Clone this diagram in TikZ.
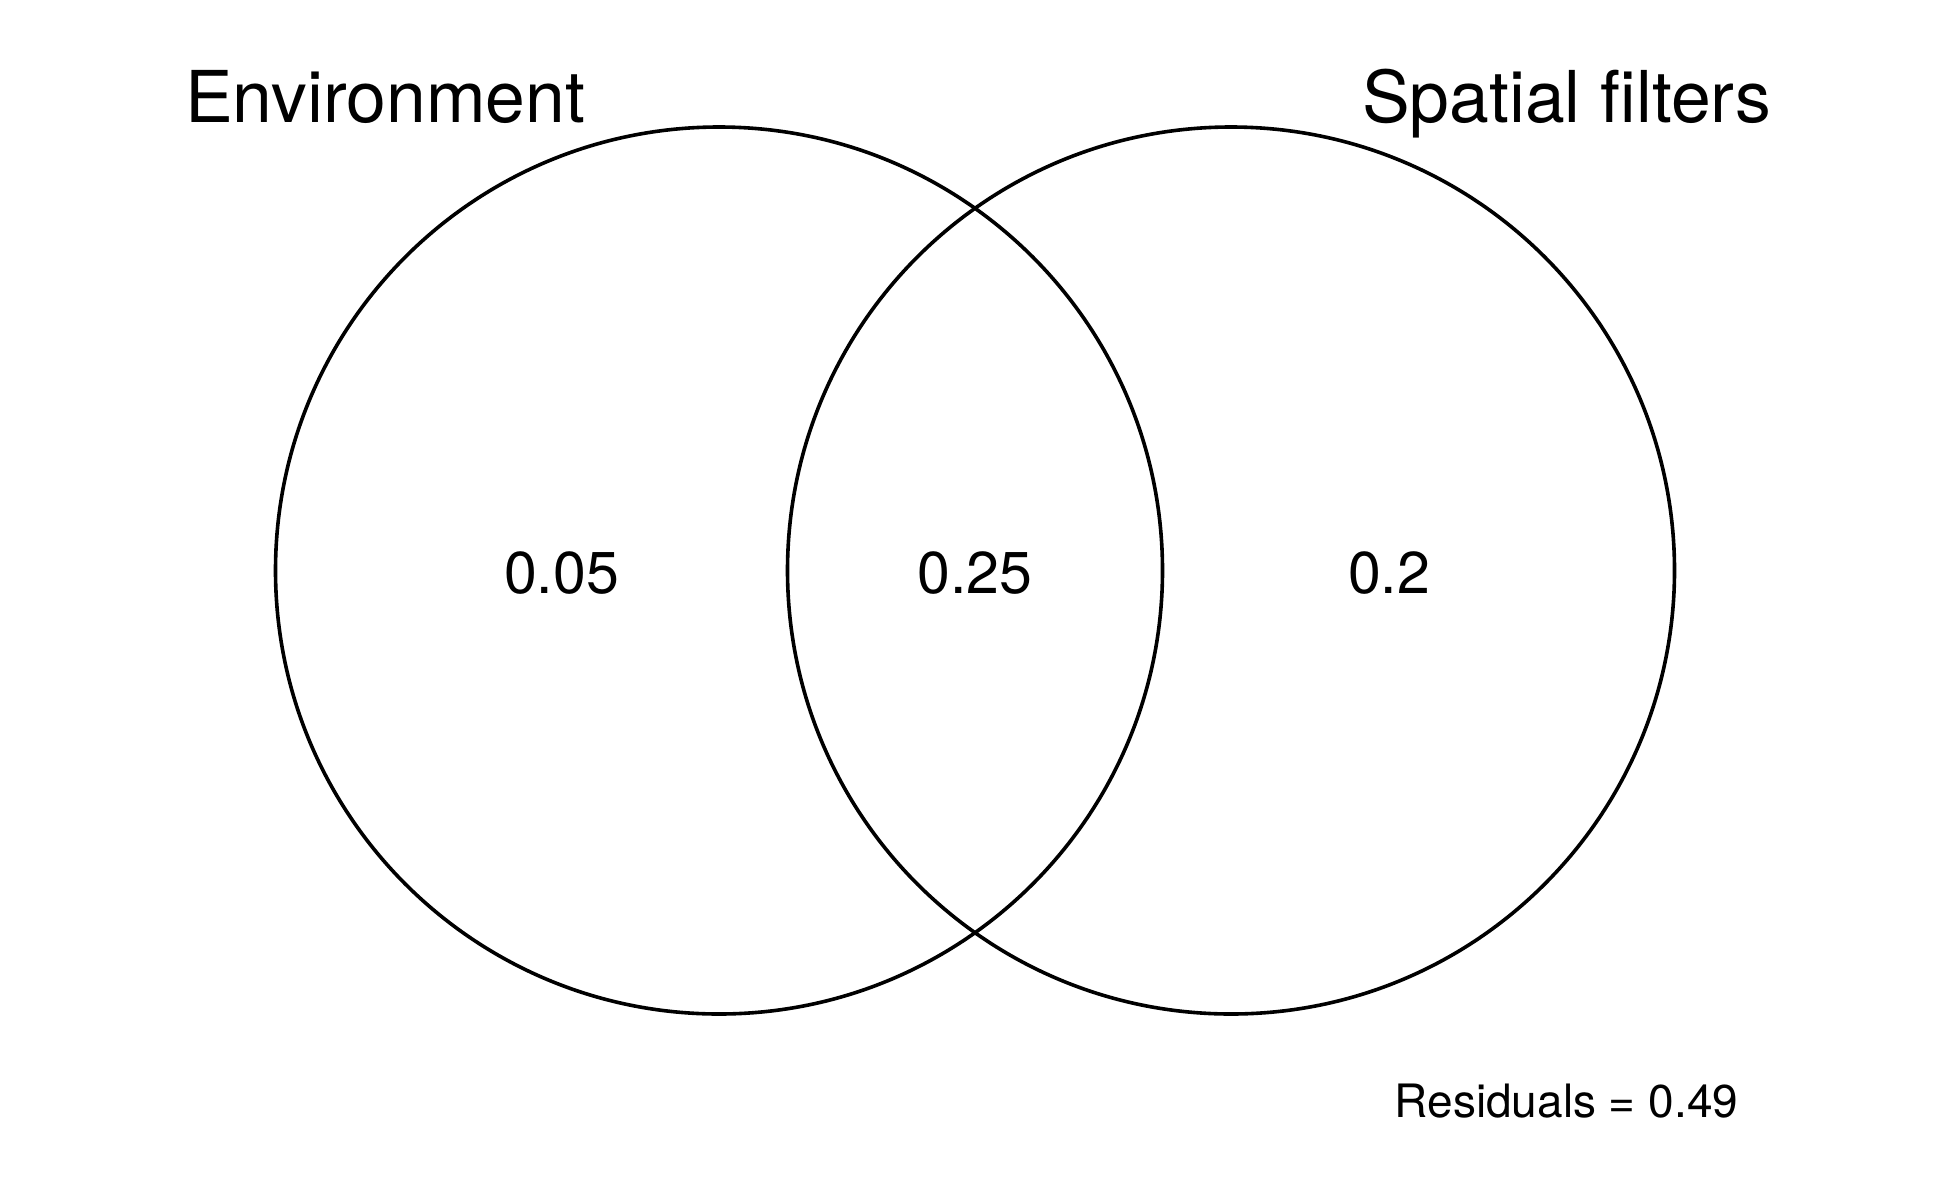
\documentclass[tikz,border=0pt]{standalone}
\usepackage{fontspec}
\setmainfont{TeX Gyre Heros}
\begin{document}
\begin{tikzpicture}[x=1pt,y=-1pt,
  setcircle/.style={draw=black,line width=3.6pt},
  title/.style={inner sep=0pt,anchor=base west,font=\fontsize{71.5}{84}\selectfont},
  value/.style={inner sep=0pt,anchor=base,font=\fontsize{59}{70}\selectfont},
  resid/.style={inner sep=0pt,anchor=base west,font=\fontsize{46}{54}\selectfont}]
\useasboundingbox[fill=white] (0,0) rectangle (1950,1200);
\coordinate (cl) at (719,570.5);
\coordinate (cr) at (1231,570.5);
\node[setcircle,circle,minimum size=887pt,inner sep=0pt] (env) at (cl) {};
\node[setcircle,circle,minimum size=887pt,inner sep=0pt] (spa) at (cr) {};
\node[title] (lenv) at (185,122) {Environment};
\node[title] (lspa) at (1362,122) {Spatial filters};
\node[value] (v1) at (561.5,593) {0.05};
\node[value] (v2) at (975,593) {0.25};
\node[value] (v3) at (1389,593) {0.2};
\node[resid] (res) at (1394.5,1117.5) {Residuals = 0.49};
\end{tikzpicture}
\end{document}
